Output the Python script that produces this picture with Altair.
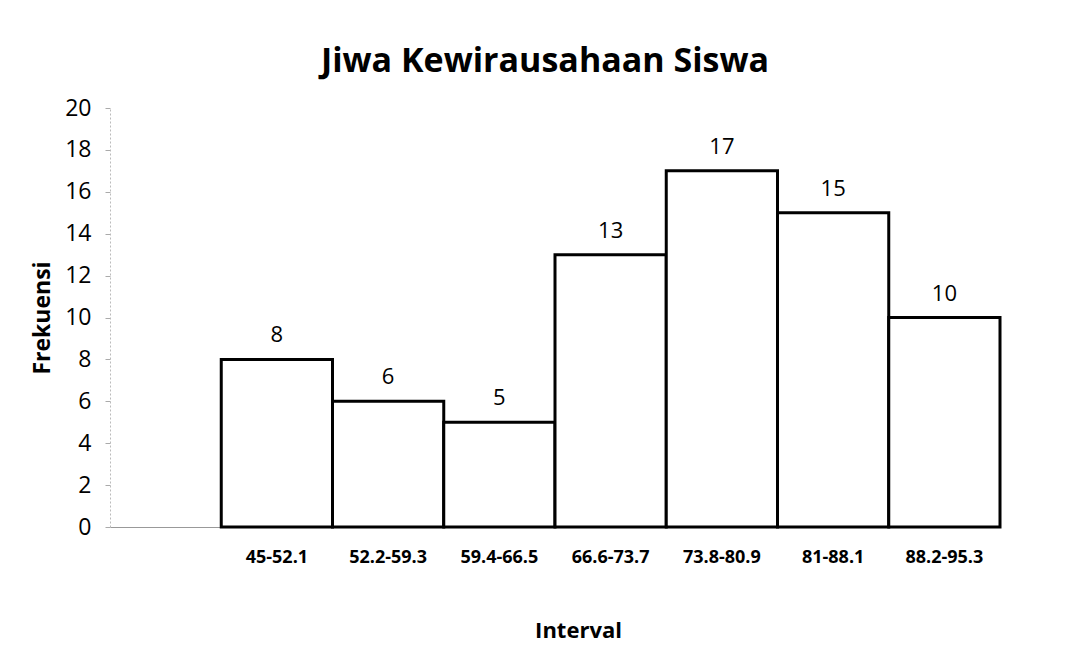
import altair as alt
import pandas as pd

intervals = ["45-52.1", "52.2-59.3", "59.4-66.5", "66.6-73.7", "73.8-80.9", "81-88.1", "88.2-95.3"]
frekuensi = [8, 6, 5, 13, 17, 15, 10]
domain = [" "] + intervals

df = pd.DataFrame({"Interval": intervals, "Frekuensi": frekuensi})

FONT = "Open Sans"

x = alt.X("Interval:N", sort=domain,
          scale=alt.Scale(domain=domain, paddingInner=0, paddingOuter=0),
          axis=alt.Axis(title="Interval", labelAngle=0, labelFontWeight="bold",
                        labelFontSize=18, labelPadding=30, labelColor="black",
                        labelBaseline="middle",
                        ticks=False, domainColor="#999999", domainWidth=1,
                        titleFontSize=22, titleFontWeight="bold", titleColor="black",
                        titleX=468, titleY=103, titleBaseline="middle"))
y = alt.Y("Frekuensi:Q",
          scale=alt.Scale(domain=[0, 20], nice=False),
          axis=alt.Axis(title="Frekuensi", values=list(range(0, 21, 2)), grid=False,
                        labelFontSize=23, labelPadding=14, labelColor="black",
                        tickSize=5, tickColor="#aaaaaa", domainColor="#bbbbbb",
                        domainDash=[2, 2], titleFontSize=23, titleFontWeight="bold",
                        titleColor="black", titlePadding=10))

bars = alt.Chart(df).mark_bar(fill="white", stroke="black", strokeWidth=3).encode(x=x, y=y)
labels = alt.Chart(df).mark_text(fontSize=22, dy=-24, baseline="middle", color="black",
                                 font=FONT).encode(x=x, y=y, text="Frekuensi:Q")

chart = (bars + labels).properties(
    width=890, height=419,
    autosize=alt.AutoSizeParams(type="none"),
    padding={"left": 102, "top": 100, "right": 60, "bottom": 123},
    title=alt.TitleParams("Jiwa Kewirausahaan Siswa", fontSize=34, fontWeight="bold",
                          color="black", font=FONT, anchor="middle", dx=-10, offset=18),
).configure(font=FONT).configure_view(stroke=None)

chart.save("out.html", embed_options={"renderer": "svg", "actions": False})
